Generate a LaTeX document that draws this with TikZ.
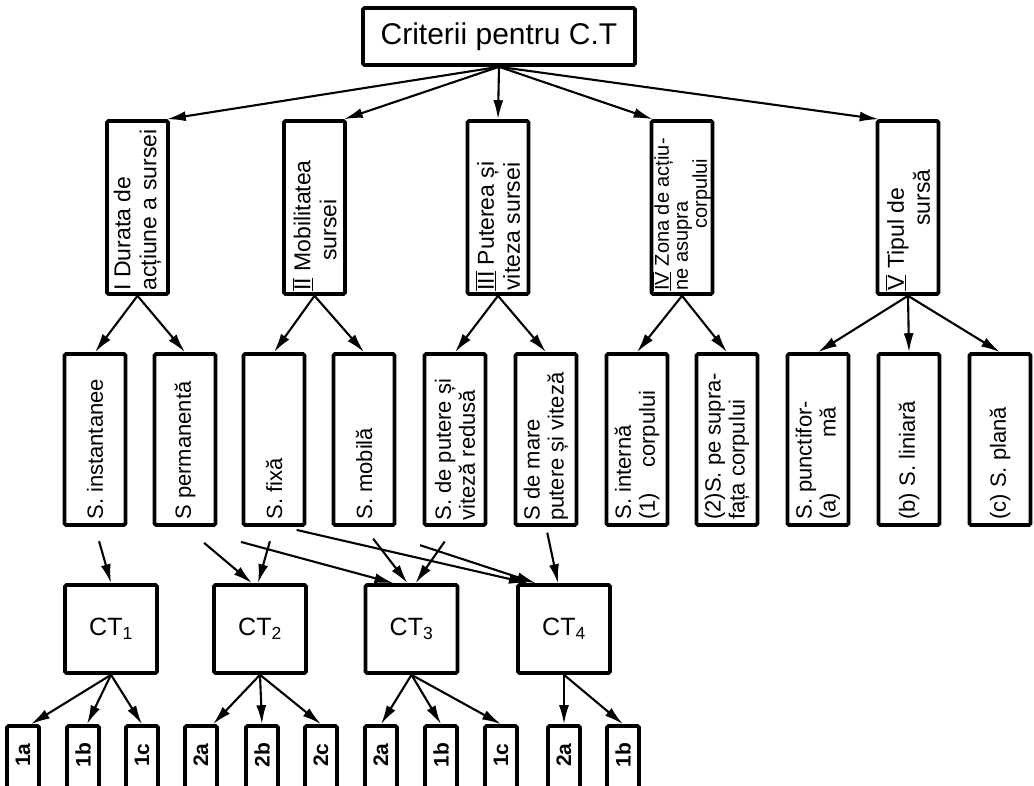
\documentclass[tikz,border=0pt]{standalone}
\usepackage{fontspec}
\setmainfont{Liberation Sans}
\usetikzlibrary{arrows.meta,calc}
\newcommand{\rnum}[1]{$\overline{\underline{\mbox{#1}}}$}
\begin{document}
\begin{tikzpicture}[x=1pt,y=1pt,
  box/.style={draw, line width=3.6pt, rounded corners=1.5pt, inner sep=0pt},
  conn/.style={line width=2.1pt, -{Latex[length=19pt,width=10pt]}},
  crit/.style={box, minimum width=61pt, minimum height=173pt},
  mid/.style={box, minimum width=61pt, minimum height=171pt},
  ctbox/.style={box, minimum width=92pt, minimum height=88pt, font=\fontsize{25}{25}\selectfont},
  leaf/.style={box, minimum width=32pt, minimum height=64pt},
  vlab/.style={rotate=90, anchor=west, align=left, inner sep=0pt, font=\fontsize{23}{26}\selectfont},
  vlabs/.style={vlab, font=\fontsize{20}{19}\selectfont},
  mlab/.style={vlab, font=\fontsize{22}{24}\selectfont},
  llab/.style={rotate=90, inner sep=0pt, font=\bfseries\fontsize{21}{21}\selectfont}
]
\useasboundingbox (0,0) rectangle (1034,-785);

% top
\node[box, minimum width=272pt, minimum height=57pt, font=\fontsize{30}{30}\selectfont] (top) at (499,-36.5) {Criterii pentru C.T};

% criteria
\node[crit] (cI)   at (137.5,-207.5) {};
\node[crit] (cII)  at (314.5,-207.5) {};
\node[crit] (cIII) at (498,-207.5) {};
\node[crit] (cIV)  at (682,-207.5) {};
\node[crit] (cV)   at (908,-207.5) {};
\node[vlab]  (tI)   at ($(cI.south)+(0,5)$)   {I Durata de\\acțiune a sursei};
\node[vlab]  (tII)  at ($(cII.south)+(0,5)$)  {\rnum{II} Mobilitatea\\\hspace*{30pt}sursei};
\node[vlab]  (tIII) at ($(cIII.south)+(0,5)$) {\rnum{III} Puterea și\\viteza sursei};
\node[vlabs] (tIV)  at ($(cIV.south)+(0,5)$)  {\rnum{IV} Zona de acțiu-\\ne asupra\\\hspace*{62pt}corpului};
\node[vlab]  (tV)   at ($(cV.south)+(0,5)$)   {\rnum{V} Tipul de\\\hspace*{65pt}sursă};

% middle
\node[mid] (m1)  at (95,-439.5) {};
\node[mid] (m2)  at (185,-439.5) {};
\node[mid] (m3)  at (274,-439.5) {};
\node[mid] (m4)  at (364,-439.5) {};
\node[mid] (m5)  at (455,-439.5) {};
\node[mid] (m6)  at (546,-439.5) {};
\node[mid] (m7)  at (637,-439.5) {};
\node[mid] (m8)  at (727,-439.5) {};
\node[mid] (m9)  at (818,-439.5) {};
\node[mid] (m10) at (909,-439.5) {};
\node[mid] (m11) at (1000,-439.5) {};
\node[mlab] (t1)  at ($(m1.south)+(0,7)$)  {S. instantanee};
\node[mlab] (t2)  at ($(m2.south)+(0,7)$)  {S permanentă};
\node[mlab] (t3)  at ($(m3.south)+(0,7)$)  {S. fixă};
\node[mlab] (t4)  at ($(m4.south)+(0,7)$)  {S. mobilă};
\node[mlab] (t5)  at ($(m5.south)+(0,6)$)  {S. de putere și\\viteză redusă};
\node[mlab] (t6)  at ($(m6.south)+(0,6)$)  {S de mare\\putere și viteză};
\node[mlab] (t7)  at ($(m7.south)+(0,7)$)  {S. internă\\(1)\hspace*{25pt}corpului};
\node[mlab] (t8)  at ($(m8.south)+(0,7)$)  {(2)S. pe supra-\\fața corpului};
\node[mlab] (t9)  at ($(m9.south)+(0,7)$)  {S. punctifor-\\(a)\hspace*{55pt}mă};
\node[mlab] (t10) at ($(m10.south)+(0,7)$) {(b) S. liniară};
\node[mlab] (t11) at ($(m11.south)+(0,7)$) {(c) S. plană};

% CT boxes
\node[ctbox] (ct1) at (111,-629)   {CT\textsubscript{1}};
\node[ctbox] (ct2) at (260,-629)   {CT\textsubscript{2}};
\node[ctbox] (ct3) at (411.5,-629) {CT\textsubscript{3}};
\node[ctbox] (ct4) at (564,-629)   {CT\textsubscript{4}};

% leaves
\foreach \n/\x/\t in {1/23/1a,2/83/1b,3/142/1c,4/201/2a,5/262/2b,6/321/2c,7/381/2a,8/441/1b,9/501/1c,10/564/2a,11/623/1b}{
  \node[leaf] (l\n) at (\x,-758) {};
  \node[llab] (ll\n) at (\x,-755) {\t};
}

% top -> criteria
\draw[conn] (top.south) -- ($(cI.north east)+(-3,0)$);
\draw[conn] (top.south) -- ($(cII.north east)+(-3,0)$);
\draw[conn] (top.south) -- (cIII.north);
\draw[conn] (top.south) -- ($(cIV.north west)+(3,0)$);
\draw[conn] (top.south) -- ($(cV.north west)+(3,0)$);

% criteria -> middle
\draw[conn] (cI.south) -- (m1.north);
\draw[conn] (cI.south) -- (m2.north);
\draw[conn] (cII.south) -- (m3.north);
\draw[conn] (cII.south) -- (m4.north);
\draw[conn] (cIII.south) -- (m5.north);
\draw[conn] (cIII.south) -- (m6.north);
\draw[conn] (cIV.south) -- (m7.north);
\draw[conn] (cIV.south) -- (m8.north);
\draw[conn] (cV.south) -- (m9.north);
\draw[conn] (cV.south) -- (m10.north);
\draw[conn] (cV.south) -- (m11.north);

% middle -> CT
\draw[conn, shorten <=15pt] (m1.south) -- (ct1.north);
\draw[conn, shorten <=25pt] (m2.south) -- ($(ct2.north)+(-8,0)$);
\draw[conn, shorten <=58pt] (m2.south) -- ($(ct3.north)+(-18,0)$);
\draw[conn, shorten <=15pt] (m3.south) -- ($(ct2.north)+(-2,0)$);
\draw[conn, shorten <=14pt] ($(m3.south)+(9,0)$) -- ($(ct4.north)+(-36,0)$);
\draw[conn, shorten <=15pt] (m4.south) -- ($(ct3.north)+(-4,0)$);
\draw[conn, shorten <=59pt] (m4.south) -- ($(ct4.north)+(-28,0)$);
\draw[conn, shorten <=18pt] (m5.south) -- ($(ct3.north)+(4,0)$);
\draw[conn, shorten <=6pt] (m6.south) -- ($(ct4.north)+(-6,0)$);

% CT -> leaves
\draw[conn] (ct1.south) -- ($(l1.north)+(8,0)$);
\draw[conn] (ct1.south) -- ($(l2.north)+(4,0)$);
\draw[conn] (ct1.south) -- (l3.north);
\draw[conn] (ct2.south) -- ($(l4.north)+(12,0)$);
\draw[conn] (ct2.south) -- (l5.north);
\draw[conn] (ct2.south) -- (l6.north);
\draw[conn] (ct3.south) -- (l7.north);
\draw[conn] (ct3.south) -- (l8.north);
\draw[conn] (ct3.south) -- (l9.north);
\draw[conn] (ct4.south) -- (l10.north);
\draw[conn] (ct4.south) -- (l11.north);
\end{tikzpicture}
\end{document}
